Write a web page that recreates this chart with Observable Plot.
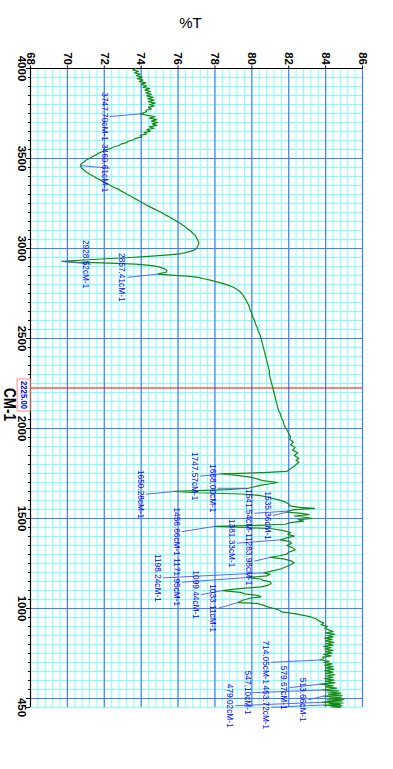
<!DOCTYPE html>
<html><head><meta charset="utf-8">
<script src="https://cdn.jsdelivr.net/npm/d3@7"></script>
<script src="https://cdn.jsdelivr.net/npm/@observablehq/plot@0.6"></script>
<style>html,body{margin:0;padding:0;background:#fff;} svg{display:block}</style>
</head><body><div id="chart"></div>
<script>
// ---- data ----
const wavenumbers = [
4000,3992,3984,3976,3968,3960,3952,3944,3936,3928,3920,3912,3904,3896,3888,3880,3872,3864,3856,3848,
3840,3832,3824,3816,3808,3800,3792,3784,3776,3768,3760,3747.7,3740,3732,3724,3716,3708,3700,3692,3684,
3676,3668,3660,3652,3644,3636,3628,3620,3612,3604,3596,3588,3580,3572,3564,3556,3548,3540,3530,3520,
3510,3500,3490,3480,3470,3460.61,3450,3440,3430,3420,3410,3400,3390,3380,3370,3360,3350,3340,3330,3320,
3310,3300,3290,3280,3270,3260,3250,3240,3230,3220,3210,3200,3190,3180,3170,3160,3150,3140,3130,3120,
3110,3100,3090,3080,3070,3060,3050,3040,3030,3020,3010,3000,2990,2980,2972,2965,2958,2950,2943,2936,
2928.52,2924,2919,2913,2905,2897,2888,2878,2868,2862,2857.41,2852,2846,2840,2832,2824,2815,2805,2795,2785,
2775,2765,2750,2735,2720,2700,2680,2660,2640,2620,2600,2580,2560,2540,2520,2500,2480,2460,2440,2420,
2400,2380,2360,2340,2320,2300,2280,2260,2240,2220,2200,2180,2160,2140,2120,2100,2080,2060,2040,2020,
2000,1985,1970,1955,1940,1925,1910,1895,1880,1865,1850,1835,1824,1812,1800,1790,1780,1770,1762,1755,
1747.57,1740,1730,1720,1710,1700,1693,1685,1675,1668,1660,1650.28,1643,1636,1628,1618,1605,1592,1580,1570,
1562,1556,1549,1541.54,1535.36,1529,1522,1514,1507,1500,1493,1485,1477,1468,1462,1456.66,1450,1443,1433,1422,
1412,1402,1392,1381.33,1372,1362,1350,1338,1325,1313,1302,1293,1283.98,1276,1266,1254,1243,1232,1221,1210,
1198.24,1190,1181,1171.95,1164,1156,1148,1139,1130,1120,1110,1099.44,1090,1081,1073,1065,1057,1046,1038,1033.11,
1028,1019,1009,1000,990,981,972,962,953,942,930,920,910,900,890,880,872,865,857,850,
842,835,828,820,812,805,797,790,782,775,767,760,752,745,737,730,722,714.05,707,700,
692,685,677,670,662,655,647,640,632,625,617,610,602,595,587,579.67,572,565,558,551,
547.1,542,536,530,524,518,513.66,508,502,497,492,487,483,479.02,475,471,467,463.72,459,455,451
];
const transmittance = [
73.7,73.55,73.85,73.65,73.95,73.75,74.05,73.8,74.1,73.9,74.25,74.0,74.3,74.1,74.45,74.2,74.5,74.25,74.55,74.3,
74.65,74.35,74.7,74.4,74.75,74.45,74.7,74.4,74.55,74.25,74.3,73.95,74.35,74.75,74.45,74.85,74.55,74.9,74.6,74.85,
74.45,74.7,74.3,74.5,74.15,74.3,73.95,74.05,73.7,73.6,73.3,73.2,72.9,72.8,72.5,72.35,72.1,71.95,71.7,71.55,
71.35,71.2,71.0,70.9,70.75,70.7,70.75,70.85,70.95,71.1,71.25,71.45,71.6,71.8,72.0,72.15,72.35,72.5,72.75,72.9,
73.1,73.25,73.45,73.6,73.8,73.95,74.15,74.3,74.5,74.7,74.9,75.1,75.25,75.45,75.6,75.8,75.95,76.1,76.25,76.4,
76.5,76.65,76.75,76.85,76.95,77.0,77.05,77.1,77.12,77.1,77.05,77.0,76.85,76.5,76.2,75.5,74.6,73.4,72.1,70.9,
69.7,70.5,72.3,73.7,74.6,75.0,75.25,75.4,75.35,75.05,74.9,75.6,76.5,77.1,77.4,77.75,78.1,78.45,78.75,79.0,
79.15,79.3,79.45,79.55,79.65,79.75,79.85,79.9,80.0,80.05,80.15,80.2,80.3,80.35,80.45,80.5,80.55,80.6,80.65,80.7,
80.75,80.8,80.85,80.9,80.95,80.95,81.0,81.05,81.1,81.15,81.2,81.25,81.3,81.35,81.4,81.45,81.55,81.6,81.7,81.75,
81.85,81.95,82.0,82.1,82.05,82.25,82.1,82.35,82.2,82.5,82.3,82.55,82.4,82.55,82.4,82.3,82.15,82.0,81.9,80.6,
78.3,79.2,79.9,80.3,80.6,81.4,81.0,80.5,80.1,79.8,78.6,75.8,77.1,79.4,80.4,80.9,81.4,81.8,82.0,82.05,
82.6,83.4,82.3,82.0,81.9,82.7,83.1,82.3,82.9,83.3,82.5,82.8,82.1,81.8,80.3,78.0,79.6,81.1,81.7,82.1,
81.95,82.3,81.9,81.55,82.05,82.15,81.9,82.2,82.35,82.0,81.9,81.5,81.0,81.7,82.1,82.3,82.1,81.85,81.6,81.2,
80.65,81.0,80.8,79.75,80.5,80.6,81.0,81.05,80.9,80.5,79.3,78.4,79.4,79.6,80.3,80.5,79.9,79.5,79.35,79.25,
80.3,80.6,80.85,81.2,81.5,81.6,82.3,82.8,83.2,83.5,83.65,83.9,83.75,84.1,83.95,84.2,84.4,84.0,84.5,84.1,
84.4,83.95,84.35,84.0,84.45,84.05,84.4,83.9,84.3,83.95,84.4,84.0,84.35,83.9,84.3,83.85,83.9,83.7,84.2,83.9,
84.35,83.95,84.4,84.0,84.45,83.95,84.4,84.0,84.5,84.05,84.4,83.95,84.45,84.0,84.5,83.7,84.4,84.0,84.6,84.1,
83.8,84.7,84.1,84.8,84.15,84.9,83.9,84.85,84.2,85.0,84.1,84.9,84.2,83.8,84.95,84.2,84.8,83.9,84.9,84.3,84.8
];
const peakWn = [3747.70,3460.61,2928.52,2857.41,1747.57,1668.00,1650.28,1541.54,1535.36,1456.66,1381.33,1283.98,1198.24,1171.95,1099.44,1033.11,714.05,579.67,547.10,513.66,479.02,463.72];
const peakT  = [73.95,70.7,69.7,74.9,78.3,79.8,75.8,82.0,81.9,78.0,81.55,81.0,80.65,79.75,78.4,79.25,83.7,83.7,83.8,83.9,83.8,83.9];
const labelT = [72.0,72.0,70.97,72.96,76.9,77.85,73.96,79.84,80.84,75.91,78.9,79.84,74.87,75.91,76.95,77.9,80.75,81.74,79.75,82.77,78.8,80.75];
const labelWn = [3733,3446,2913,2840,1735,1668,1635,1529,1516,1427,1363,1263,1170,1146,1077,1002,701,560,532,493,460,451];
const xTickLabels = [68,70,72,74,76,78,80,82,84,86];
const yTickLabels = [4000,3500,3000,2500,2000,1500,1000,450];
const markerWn = 2225;
const xTitle = "%T";
const yTitle = "CM-1";

// ---- build ----
const spectrum = wavenumbers.map((w, i) => ({w, t: transmittance[i]}));
const peaks = peakWn.map((w, i) => ({w, t: peakT[i], lw: labelWn[i], lt: labelT[i], label: w.toFixed(2) + "cM-1"}));
const minorT = d3.range(0, 46).map(i => +(68 + i * 0.4).toFixed(1));
const minorW = d3.range(450, 4001, 50);
const majorT = d3.range(70, 87, 2);
const majorW = d3.range(500, 3501, 500);
const fontFam = "'Liberation Sans', Arial, Helvetica, sans-serif";

const svg = Plot.plot({
  width: 393, height: 769,
  marginTop: 68, marginRight: 31, marginBottom: 62, marginLeft: 30,
  style: {fontFamily: fontFam, background: "#fff", overflow: "visible"},
  x: {domain: [68, 86], label: null},
  y: {domain: [450, 4000], label: null},
  marks: [
    Plot.ruleX(minorT, {stroke: "#80ffff", strokeWidth: 1}),
    Plot.ruleY(minorW, {stroke: "#80ffff", strokeWidth: 1}),
    Plot.ruleX(majorT, {stroke: "#4080ff", strokeWidth: 1.2}),
    Plot.ruleY(majorW, {stroke: "#4080ff", strokeWidth: 1.2}),
    Plot.ruleY([markerWn], {stroke: "#ff0000", strokeWidth: 1.2}),
    Plot.ruleX([68], {stroke: "black", strokeWidth: 1.2}),
    Plot.ruleY([4000], {stroke: "black", strokeWidth: 1.2}),
    Plot.axisX({anchor: "top", ticks: xTickLabels, tickSize: 3.5, tickFormat: () => "", label: null}),
    Plot.axisY({anchor: "left", ticks: minorW, tickSize: 2, tickFormat: () => "", label: null}),
    Plot.axisY({anchor: "left", ticks: [...majorW, 4000, 450], tickSize: 4, tickFormat: () => "", label: null}),
    Plot.text(xTickLabels, {x: d => d, frameAnchor: "top", dy: -3.5, rotate: 90, textAnchor: "end", lineAnchor: "middle", text: d => String(d), fontSize: 11.5, fontWeight: "bold", fill: "black"}),
    Plot.text(yTickLabels, {y: d => d, frameAnchor: "left", dx: -9, rotate: 90, textAnchor: "middle", lineAnchor: "middle", text: d => String(d), fontSize: 11.5, fontWeight: "bold", fill: "black"}),
    Plot.line(spectrum, {x: "t", y: "w", stroke: "#138a13", strokeWidth: 1.2}),
    Plot.link(peaks, {x1: d => d.lt + 0.3, y1: "lw", x2: "t", y2: "w", stroke: "#5050ff", strokeWidth: 0.9}),
    Plot.text(peaks, {x: "lt", y: "lw", text: "label", rotate: 90, fill: "#0000ff", fontSize: 8.3, lineAnchor: "middle", textAnchor: "middle"}),
    Plot.text([xTitle], {frameAnchor: "top", dy: -45.5, dx: -6, text: d => d, fontSize: 15, lineAnchor: "middle", fill: "black"}),
    Plot.text([yTitle], {frameAnchor: "left", dx: -21.5, rotate: 90, text: d => d, fontSize: 17, fontWeight: "bold", lineAnchor: "middle", fill: "black"}),
    Plot.text([markerWn], {y: d => d, frameAnchor: "left", dx: -7, dy: -7, rotate: 90, text: d => d.toFixed(2), fill: "#0000ff", fontSize: 9, fontWeight: "bold", lineAnchor: "middle"})
  ]
});
document.getElementById("chart").append(svg);

// post-process: condensed title, boxed marker label
const sb = svg.getBoundingClientRect();
for (const t of svg.querySelectorAll("text")) {
  if (t.textContent === yTitle) {
    t.setAttribute("textLength", 33);
    t.setAttribute("lengthAdjust", "spacingAndGlyphs");
  }
  if (t.textContent === markerWn.toFixed(2)) {
    t.setAttribute("textLength", 28);
    t.setAttribute("lengthAdjust", "spacingAndGlyphs");
    const r = t.getBoundingClientRect();
    const rect = document.createElementNS("http://www.w3.org/2000/svg", "rect");
    rect.setAttribute("x", r.left - sb.left - 1.5);
    rect.setAttribute("y", r.top - sb.top - 2);
    rect.setAttribute("width", r.width + 3);
    rect.setAttribute("height", r.height + 4);
    rect.setAttribute("fill", "#fff");
    rect.setAttribute("stroke", "#ff8a8a");
    rect.setAttribute("stroke-width", 1);
    const g = t.parentNode;
    g.parentNode.insertBefore(rect, g);
  }
}
</script>
</body></html>
